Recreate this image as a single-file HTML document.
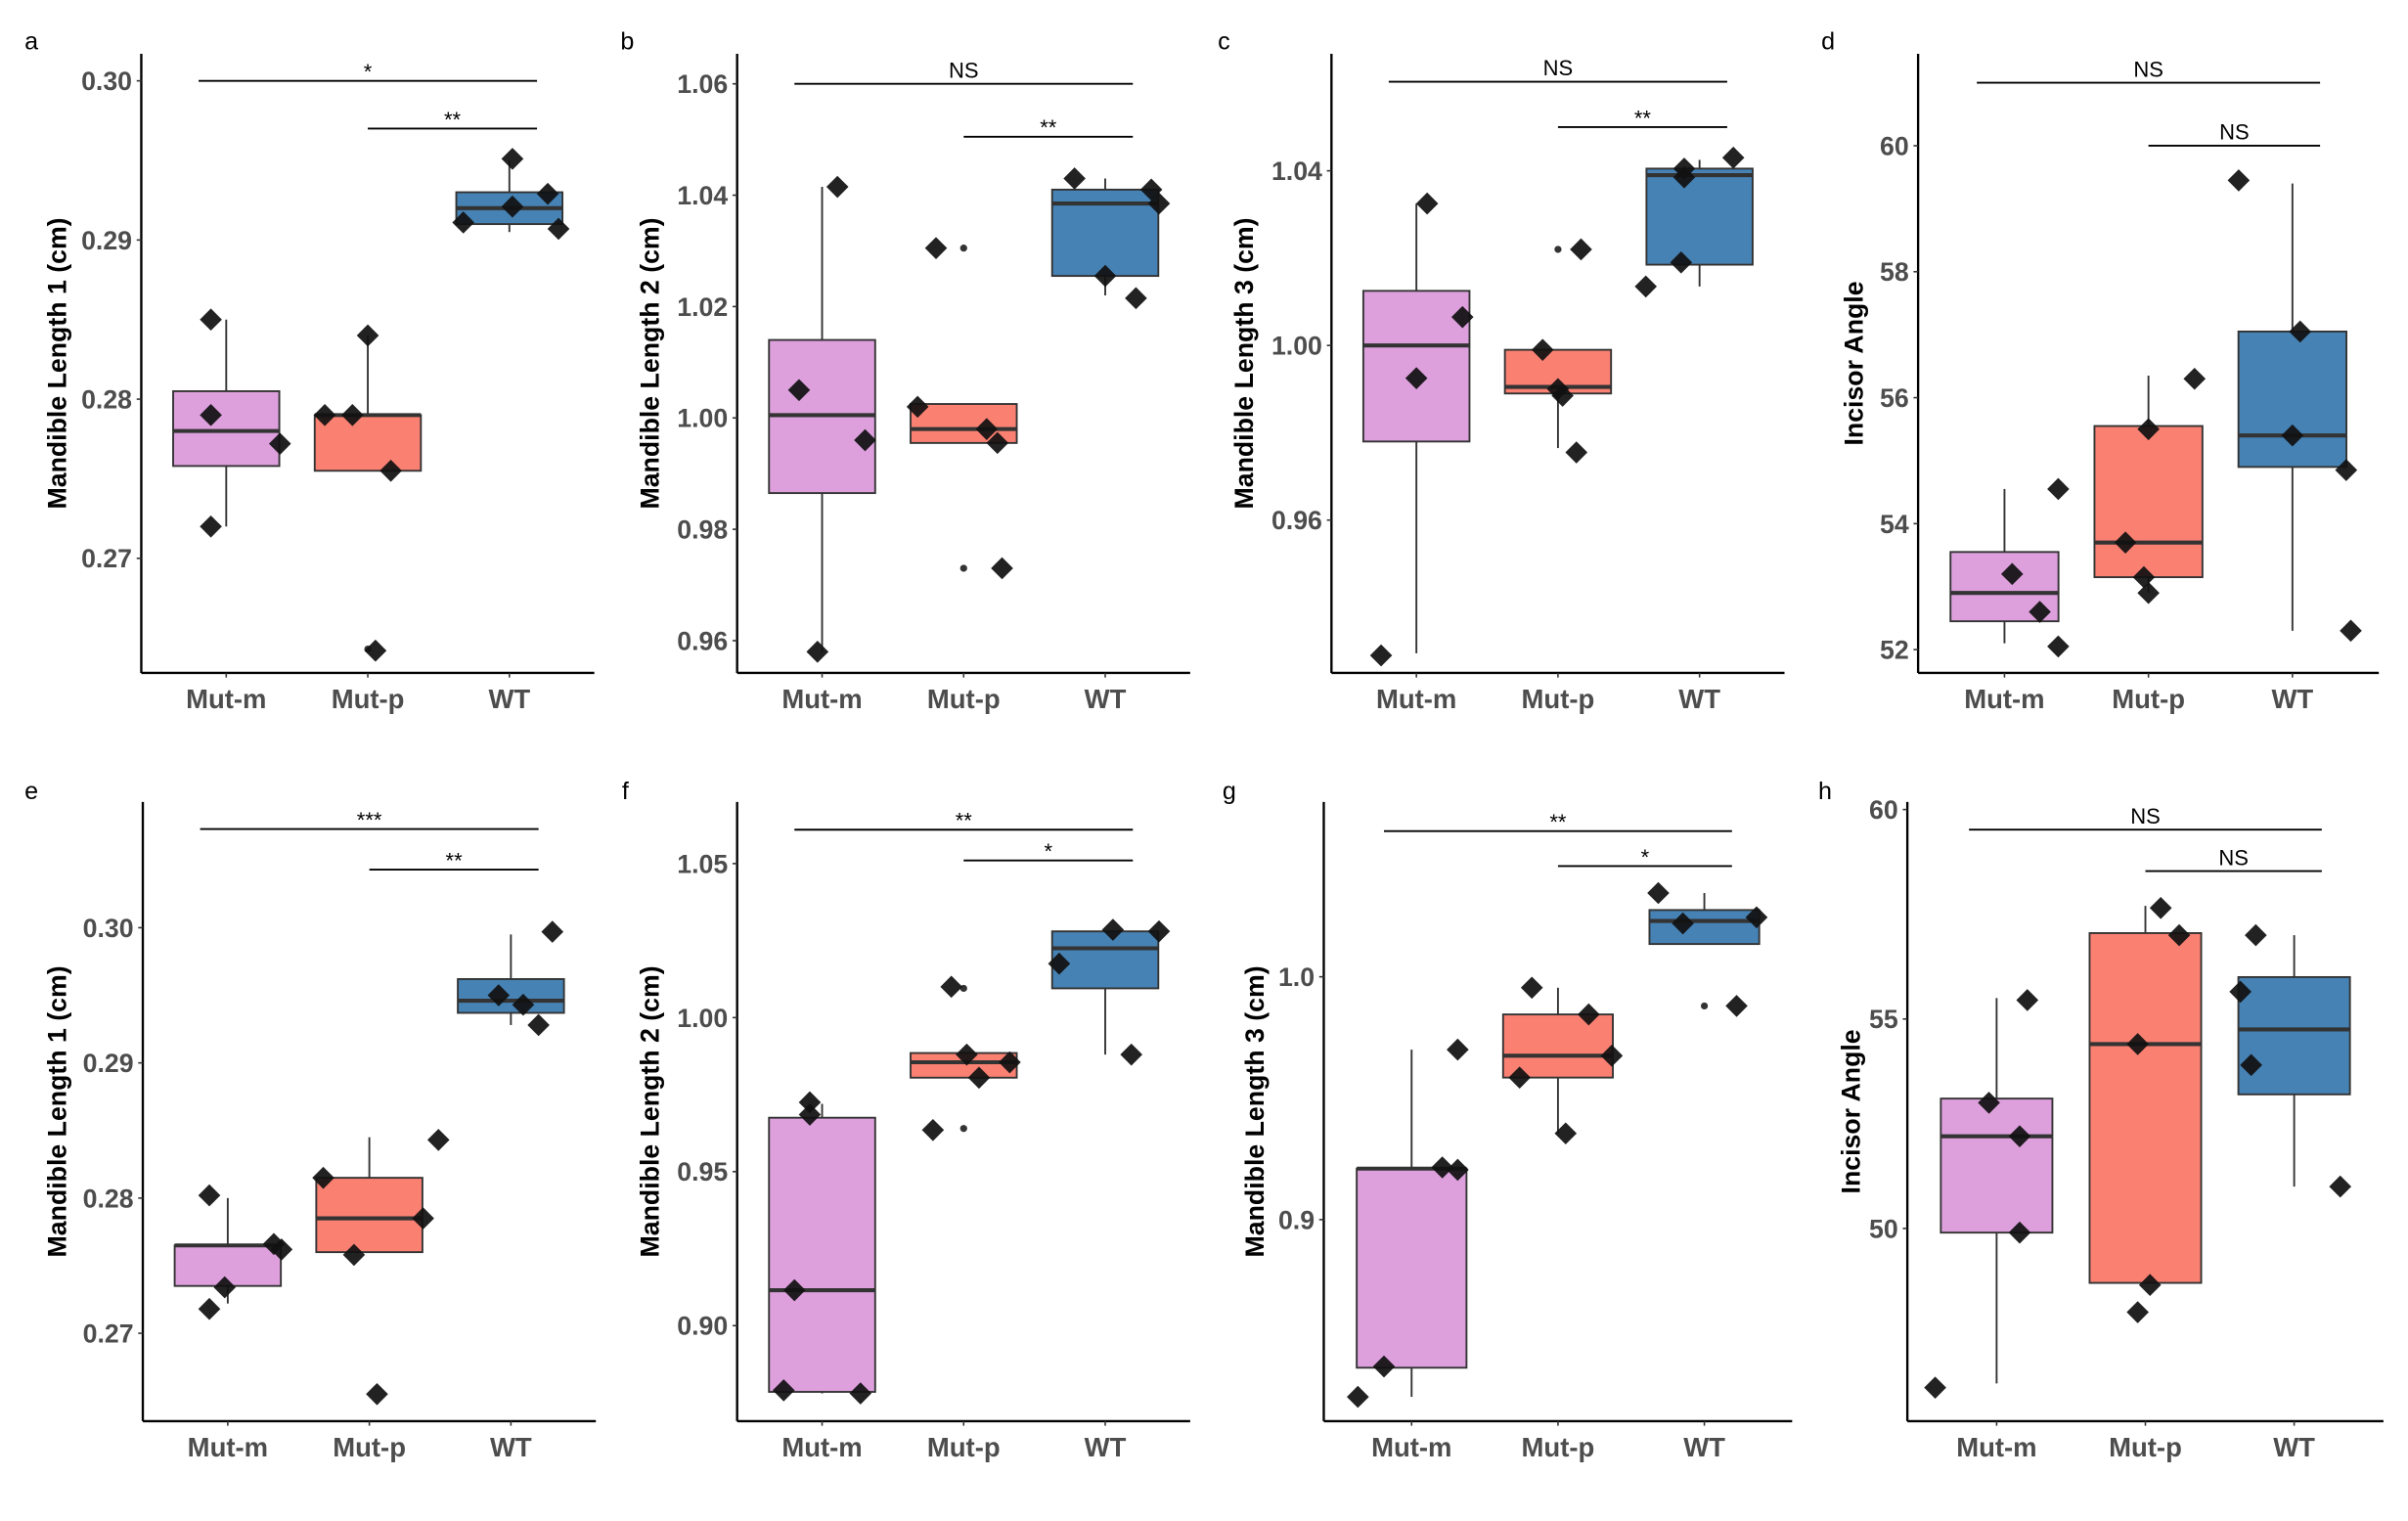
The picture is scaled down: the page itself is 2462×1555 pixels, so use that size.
<!DOCTYPE html>
<html><head><meta charset="utf-8"><style>
html,body{margin:0;padding:0;background:#fff;}
svg{display:block;}
.tick{font-family:"Liberation Sans",sans-serif;font-weight:bold;font-size:17px;fill:#4d4d4d;}
.xl{font-family:"Liberation Sans",sans-serif;font-weight:bold;font-size:17.5px;fill:#4d4d4d;}
.yt{font-family:"Liberation Sans",sans-serif;font-weight:bold;font-size:17px;fill:#000;}
.pl{font-family:"Liberation Sans",sans-serif;font-size:16px;fill:#000;}
.sg{font-family:"Liberation Sans",sans-serif;font-size:14px;fill:#000;}
</style></head><body>
<svg id="fig" width="2462" height="1555" viewBox="0 0 1568 990" preserveAspectRatio="none" xmlns="http://www.w3.org/2000/svg"></svg>
<script>
const categories = ["Mut-m","Mut-p","WT"];
const fills = ["#DDA0DD","#FA8072","#4682B4"];

// panel a
const aLow=[0.272,0.2755,0.2905], aQ1=[0.2758,0.2755,0.291], aMed=[0.278,0.279,0.292], aQ3=[0.2805,0.279,0.293], aHigh=[0.285,0.284,0.295];
const aPts=[[0.285,0.279,0.2772,0.272],[0.279,0.279,0.284,0.2755,0.2642],[0.2911,0.2951,0.2921,0.2929,0.2907]];
const aOut=[[],[0.2643],[]];
const aTicks=[0.27,0.28,0.29,0.30], aTickLabels=["0.27","0.28","0.29","0.30"];
const aSig=[0.30,0.297], aSigLabels=["*","**"];
// panel b
const bLow=[0.958,0.9955,1.022], bQ1=[0.9865,0.9955,1.0255], bMed=[1.0005,0.998,1.0385], bQ3=[1.014,1.0025,1.041], bHigh=[1.0415,1.0025,1.043];
const bPts=[[1.0415,1.005,0.996,0.958],[1.0305,1.002,0.998,0.9955,0.973],[1.043,1.0255,1.041,1.0385,1.0215]];
const bOut=[[],[1.0305,0.973],[]];
const bTicks=[0.96,0.98,1.00,1.02,1.04,1.06], bTickLabels=["0.96","0.98","1.00","1.02","1.04","1.06"];
const bSig=[1.06,1.0505], bSigLabels=["NS","**"];
// panel c
const cLow=[0.9295,0.9765,1.0135], cQ1=[0.978,0.989,1.0185], cMed=[1.0,0.9905,1.039], cQ3=[1.0125,0.999,1.0405], cHigh=[1.0325,0.999,1.0425];
const cPts=[[1.0325,1.0065,0.9925,0.929],[1.022,0.999,0.990,0.9885,0.9755],[1.0405,1.0385,1.043,1.019,1.0135]];
const cOut=[[],[1.022],[]];
const cTicks=[0.96,1.00,1.04], cTickLabels=["0.96","1.00","1.04"];
const cSig=[1.0604,1.050], cSigLabels=["NS","**"];
// panel d
const dLow=[52.1,52.9,52.3], dQ1=[52.45,53.15,54.9], dMed=[52.9,53.7,55.4], dQ3=[53.55,55.55,57.05], dHigh=[54.55,56.35,59.4];
const dPts=[[54.55,53.2,52.6,52.05],[56.3,55.5,53.7,53.15,52.9],[59.45,57.05,55.4,54.85,52.3]];
const dOut=[[],[],[]];
const dTicks=[52,54,56,58,60], dTickLabels=["52","54","56","58","60"];
const dSig=[61.0,60.0], dSigLabels=["NS","NS"];
// panel e
const eLow=[0.2722,0.276,0.2928], eQ1=[0.2735,0.276,0.2937], eMed=[0.2765,0.2785,0.2946], eQ3=[0.2765,0.2815,0.2962], eHigh=[0.280,0.2845,0.2995];
const ePts=[[0.2802,0.2766,0.2762,0.2734,0.2718],[0.2843,0.2815,0.2785,0.2758,0.2655],[0.2997,0.295,0.2943,0.2928]];
const eOut=[[],[],[]];
const eTicks=[0.27,0.28,0.29,0.30], eTickLabels=["0.27","0.28","0.29","0.30"];
const eSig=[0.3073,0.3043], eSigLabels=["***","**"];
// panel f
const fLow=[0.878,0.9805,0.988], fQ1=[0.8785,0.9805,1.0095], fMed=[0.9115,0.9855,1.0225], fQ3=[0.9675,0.9885,1.028], fHigh=[0.972,0.9885,1.028];
const fPts=[[0.9725,0.9685,0.9115,0.879,0.878],[1.010,0.988,0.9855,0.9805,0.9635],[1.0285,1.028,1.0175,0.988]];
const fOut=[[],[1.0095,0.964],[]];
const fTicks=[0.90,0.95,1.00,1.05], fTickLabels=["0.90","0.95","1.00","1.05"];
const fSig=[1.061,1.051], fSigLabels=["**","*"];
// panel g
const gLow=[0.827,0.9355,1.0135], gQ1=[0.839,0.9585,1.0135], gMed=[0.921,0.9675,1.023], gQ3=[0.921,0.9845,1.0275], gHigh=[0.970,0.9955,1.0345];
const gPts=[[0.970,0.9215,0.9205,0.8395,0.827],[0.9955,0.9845,0.9675,0.9585,0.9355],[1.0345,1.022,1.0245,0.988]];
const gOut=[[],[],[0.988]];
const gTicks=[0.9,1.0], gTickLabels=["0.9","1.0"];
const gSig=[1.060,1.0456], gSigLabels=["**","*"];
// panel h
const hLow=[46.3,48.7,51.0], hQ1=[49.9,48.7,53.2], hMed=[52.2,54.4,54.75], hQ3=[53.1,57.05,56.0], hHigh=[55.5,57.7,57.0];
const hPts=[[55.45,53.0,52.2,49.9,46.2],[57.65,57.0,54.4,48.65,48.0],[57.0,55.65,53.9,51.0]];
const hOut=[[],[],[]];
const hTicks=[50,55,60], hTickLabels=["50","55","60"];
const hSig=[59.52,58.53], hSigLabels=["NS","NS"];

// layout (not data)
const layouts = [
 {id:"a",title:"Mandible Length 1 (cm)",ax:92,top:35,bot:438,w:295,lx:16,ly:32,tx:43,ymin:0.2628,ymax:0.3017,jit:[[-10,-10,35,-10],[-28,-10,0,15,5],[-30,2,2,25,32]]},
 {id:"b",title:"Mandible Length 2 (cm)",ax:480,top:35,bot:438,w:295,lx:404,ly:32,tx:429,ymin:0.9542,ymax:1.0654,jit:[[10,-15,28,-3],[-18,-30,15,22,25],[-20,0,30,35,20]]},
 {id:"c",title:"Mandible Length 3 (cm)",ax:867,top:35,bot:438,w:295,lx:793,ly:32,tx:816,ymin:0.925,ymax:1.0668,jit:[[7,30,0,-23],[15,-10,0,3,12],[-10,-10,22,-12,-35]]},
 {id:"d",title:"Incisor Angle",ax:1249,top:35,bot:438,w:300,lx:1186,ly:32,tx:1213,ymin:51.63,ymax:61.46,jit:[[35,5,23,35],[30,0,-15,-3,0],[-35,5,0,35,38]]},
 {id:"e",title:"Mandible Length 1 (cm)",ax:93,top:522,bot:925,w:295,lx:16,ly:520,tx:43,ymin:0.2635,ymax:0.3093,jit:[[-12,30,35,-2,-12],[45,-30,35,-10,5],[27,-8,8,18]]},
 {id:"f",title:"Mandible Length 2 (cm)",ax:480,top:522,bot:925,w:295,lx:405,ly:520,tx:429,ymin:0.869,ymax:1.07,jit:[[-8,-8,-18,-25,25],[-8,2,30,10,-20],[5,35,-30,17]]},
 {id:"g",title:"Mandible Length 3 (cm)",ax:862,top:522,bot:925,w:305,lx:796,ly:520,tx:823,ymin:0.817,ymax:1.072,jit:[[30,20,30,-18,-35],[-17,20,35,-25,5],[-30,-14,34,21]]},
 {id:"h",title:"Incisor Angle",ax:1242,top:522,bot:925,w:310,lx:1184,ly:520,tx:1211,ymin:45.4,ymax:60.18,jit:[[20,-5,15,15,-40],[10,22,-5,3,-5],[-25,-35,-28,30]]}
];
const panelData = {
 a:[aLow,aQ1,aMed,aQ3,aHigh,aPts,aOut,aTicks,aTickLabels,aSig,aSigLabels],
 b:[bLow,bQ1,bMed,bQ3,bHigh,bPts,bOut,bTicks,bTickLabels,bSig,bSigLabels],
 c:[cLow,cQ1,cMed,cQ3,cHigh,cPts,cOut,cTicks,cTickLabels,cSig,cSigLabels],
 d:[dLow,dQ1,dMed,dQ3,dHigh,dPts,dOut,dTicks,dTickLabels,dSig,dSigLabels],
 e:[eLow,eQ1,eMed,eQ3,eHigh,ePts,eOut,eTicks,eTickLabels,eSig,eSigLabels],
 f:[fLow,fQ1,fMed,fQ3,fHigh,fPts,fOut,fTicks,fTickLabels,fSig,fSigLabels],
 g:[gLow,gQ1,gMed,gQ3,gHigh,gPts,gOut,gTicks,gTickLabels,gSig,gSigLabels],
 h:[hLow,hQ1,hMed,hQ3,hHigh,hPts,hOut,hTicks,hTickLabels,hSig,hSigLabels]
};

const NS="http://www.w3.org/2000/svg";
const svg=document.getElementById("fig");
function mk(tag,attrs,parent,text){const e=document.createElementNS(NS,tag);for(const k in attrs)e.setAttribute(k,attrs[k]);if(text!==undefined)e.textContent=text;parent.appendChild(e);return e;}

layouts.forEach(L=>{
 const [low,q1,med,q3,high,pts,outs,ticks,tickLabels,sig,sigLabels]=panelData[L.id];
 const g=mk("g",{},svg);
 
 
 const y=v=>L.bot-(v-L.ymin)/(L.ymax-L.ymin)*(L.bot-L.top);
 const step=L.w/3.2;
 const x=i=>L.ax+step*(i+0.6);
 const bw=step*0.75;
 const pl=mk("text",{x:L.lx,y:L.ly,class:"pl"},g,L.id);
 
 
 const ty=(L.top+L.bot)/2;
 const yt=mk("text",{x:L.tx,y:ty,class:"yt","text-anchor":"middle",transform:`rotate(-90 ${L.tx} ${ty})`},g,L.title);
 
 
 categories.forEach((c,i)=>{
  const cx=x(i);
  const bg=mk("g",{},g);
  
  
  mk("line",{x1:cx,x2:cx,y1:y(high[i]),y2:y(q3[i]),stroke:"#333","stroke-width":1.2},bg);
  mk("line",{x1:cx,x2:cx,y1:y(q1[i]),y2:y(low[i]),stroke:"#333","stroke-width":1.2},bg);
  mk("rect",{x:cx-bw/2,y:y(q3[i]),width:bw,height:Math.max(0.5,y(q1[i])-y(q3[i])),fill:fills[i],stroke:"#333","stroke-width":1.2},bg);
  mk("line",{x1:cx-bw/2,x2:cx+bw/2,y1:y(med[i]),y2:y(med[i]),stroke:"#333","stroke-width":2.6},bg);
  outs[i].forEach(v=>{
   const o=mk("circle",{cx:cx,cy:y(v),r:2.3,fill:"#333"},bg);
   
   
  });
 });
 categories.forEach((c,i)=>{
  pts[i].forEach((v,k)=>{
   const px=x(i)+(L.jit[i][k]||0), py=y(v), s=7.2;
   const p=mk("polygon",{points:`${px},${py-s} ${px+s},${py} ${px},${py+s} ${px-s},${py}`,fill:"#111","fill-opacity":0.93},g);
   
   
  });
 });
 sig.forEach((v,k)=>{
  const x1=k===0?x(0)-18:x(1), x2=x(2)+18, yy=y(v);
  const ln=mk("line",{x1:x1,x2:x2,y1:yy,y2:yy,stroke:"#000","stroke-width":1.2},g);
  
  
  const t=mk("text",{x:(x1+x2)/2,y:yy-(sigLabels[k]==="NS"?4:1),class:"sg","text-anchor":"middle"},g,sigLabels[k]);
  
  
 });
 const ya=mk("line",{x1:L.ax,x2:L.ax,y1:L.top,y2:L.bot,stroke:"#000","stroke-width":1.5},g);
 
 
 const xa=mk("line",{x1:L.ax,x2:L.ax+L.w,y1:L.bot,y2:L.bot,stroke:"#000","stroke-width":1.5},g);
 
 
 ticks.forEach((v,k)=>{
  mk("line",{x1:L.ax-3,x2:L.ax,y1:y(v),y2:y(v),stroke:"#333","stroke-width":1},g);
  const t=mk("text",{x:L.ax-6,y:y(v)+6,class:"tick","text-anchor":"end"},g,tickLabels[k]);
  
  
 });
 categories.forEach((c,i)=>{
  mk("line",{x1:x(i),x2:x(i),y1:L.bot,y2:L.bot+3,stroke:"#333","stroke-width":1},g);
  const t=mk("text",{x:x(i),y:L.bot+23,class:"xl","text-anchor":"middle"},g,c);
  
  
 });
});
</script>
</body></html>
